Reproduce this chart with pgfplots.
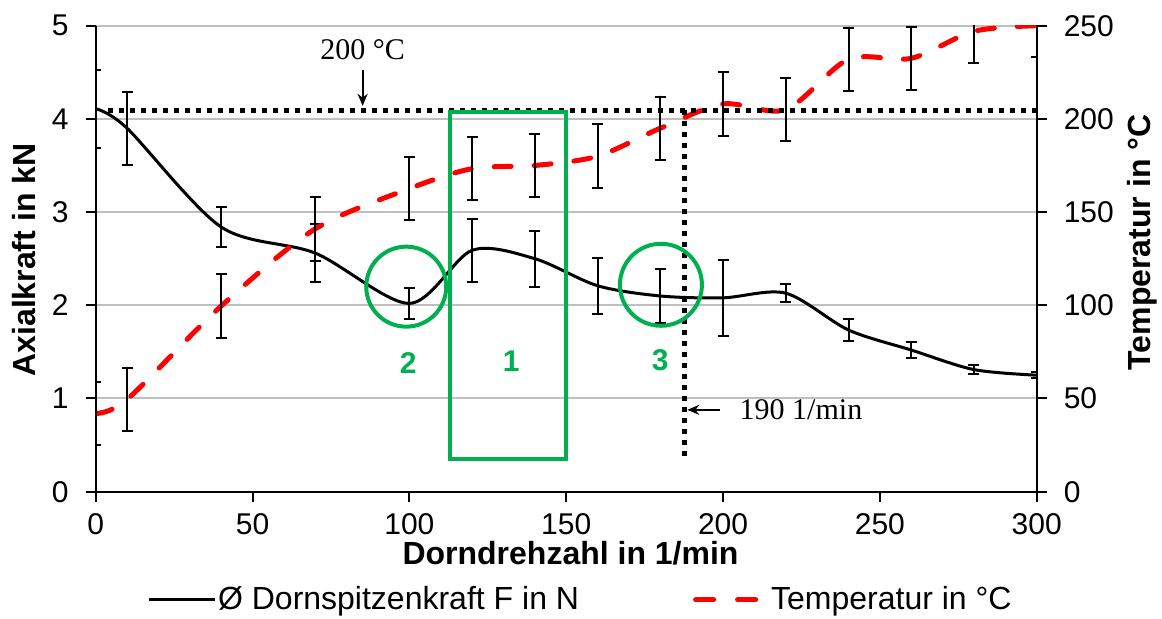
\documentclass[border=0pt]{standalone}
\usepackage{fontspec}
\setmainfont{Liberation Sans}
\newfontfamily\serif{Liberation Serif}
\usepackage{pgfplots}
\usepackage{pgfplotstable}
\pgfplotsset{compat=1.18}
\usetikzlibrary{arrows.meta}
\definecolor{ggreen}{HTML}{00B050}

\pgfplotstableread{
x    F     Fe
0    4.11  0.42
10   3.90  0.39
40   2.84  0.21
70   2.56  0.31
100  2.02  0.17
120  2.59  0.34
140  2.50  0.30
160  2.21  0.30
180  2.10  0.29
200  2.08  0.41
220  2.13  0.10
240  1.735 0.12
260  1.52  0.09
280  1.31  0.045
300  1.25  0.03
}\force

\pgfplotstableread{
x    T     Te
0    42    17
10   49.5  17
40   99.6  17
70   141   17
100  162.6 17
120  173.3 17
140  175   17
160  180   17
180  195   17
200  208   17
220  205   17
240  232   17
260  232.5 17
280  247   17
300  250   17
}\temp

\pgfplotsset{
  common/.style={
    scale only axis,
    width=470.5pt, height=233pt,
    xmin=0, xmax=300,
    tick align=outside,
    major tick length=5pt,
    tick style={black, line width=1pt},
    axis line style={-, black, line width=1pt},
    /pgf/number format/assume math mode=true,
    ticklabel style={font=\fontsize{15}{15}\selectfont},
    label style={font=\fontsize{16}{16}\selectfont\bfseries},
  },
  errs/.style={
    error bars/.cd, y dir=both, y explicit,
    error bar style={black, solid, line width=1pt},
    error mark options={rotate=90, mark size=2.75pt, black, solid, line width=1pt},
  },
}

\begin{document}
\begin{tikzpicture}
\begin{axis}[
  common,
  ymin=0, ymax=5,
  xtick={0,50,...,300},
  ytick={0,1,...,5},
  axis x line*=bottom,
  axis y line*=left,
  xticklabel style={inner ysep=0pt, yshift=-5.5pt},
  yticklabel style={xshift=-5pt},
  ymajorgrids=true,
  major grid style={gray!50, line width=1pt},
  xlabel={Dorndrehzahl in 1/min},
  ylabel={Axialkraft in kN},
  xlabel style={at={(axis description cs:0.5046,-0.133)}, anchor=center, inner ysep=0pt},
  ylabel style={at={(axis description cs:-0.0765,0.497)}, anchor=center},
  legend columns=2,
  legend style={at={(axis description cs:0.0542,-0.232)}, anchor=west,
    draw=none, fill=none, inner sep=0pt,
    nodes={inner xsep=1pt},
    font=\fontsize{16}{16}\selectfont,
    /tikz/every even column/.append style={column sep=56pt}},
  legend cell align=left,
]
\addplot[black, line width=1.5pt, smooth, tension=0.5, mark=none,
  legend image code/.code={\draw[black, line width=1.5pt] (0pt,0pt) -- (33pt,0pt);}, errs]
  table[x=x, y=F, y error=Fe] {\force};
\addlegendentry{Ø Dornspitzenkraft F in N}
\addlegendimage{red, line width=2.5pt, line cap=round,
  legend image code/.code={\draw[red, line width=2.5pt, line cap=round, dash pattern=on 9pt off 12pt] (1.25pt,0pt) -- (32pt,0pt);
    \path[draw=none] (0pt,0pt) -- (38pt,0pt);}}
\addlegendentry{Temperatur in °C}
\end{axis}

\begin{axis}[
  common,
  ymin=0, ymax=250,
  ytick={0,50,...,250},
  axis x line=none,
  axis y line*=right,
  yticklabel style={xshift=5pt},
  ylabel={Temperatur in °C},
  ylabel style={at={(axis description cs:1.112,0.535)}, anchor=center},
]
\addplot[red, line width=2.5pt, line cap=round, dash pattern=on 8.5pt off 11.5pt,
  smooth, tension=0.5, mark=none, errs]
  table[x=x, y=T, y error=Te] {\temp};

% Markierungen
\draw[black, line width=2.5pt, dash pattern=on 2.5pt off 3pt]
  (axis cs:4,204.75) -- (axis cs:300,204.75);
\draw[black, line width=2.5pt, dash pattern=on 2.5pt off 3pt]
  (axis cs:187.7,204.75) -- (axis cs:187.7,16);
\draw[ggreen, line width=2pt] (axis cs:112.8,17.5) rectangle (axis cs:149.8,203.5);
\node[draw=ggreen, line width=2pt, circle, minimum size=40pt, inner sep=0pt] at (axis cs:99,110) {};
\node[draw=ggreen, line width=2pt, circle, minimum size=41pt, inner sep=0pt] at (axis cs:180.2,111) {};
\node[ggreen, font=\fontsize{15}{15}\selectfont\bfseries] at (axis cs:99.6,69) {2};
\node[ggreen, font=\fontsize{15}{15}\selectfont\bfseries] at (axis cs:132.5,69.75) {1};
\node[ggreen, font=\fontsize{15}{15}\selectfont\bfseries] at (axis cs:180,70.5) {3};

\draw[-{Stealth[length=6pt,width=5pt]}, line width=1pt] (axis cs:85.1,226) -- (axis cs:85.1,207);
\node[font=\serif\fontsize{15}{15}\selectfont] at (axis cs:85.1,237) {200 °C};
\draw[-{Stealth[length=6pt,width=5pt]}, line width=1pt] (axis cs:199,43.9) -- (axis cs:188.6,43.9);
\node[anchor=west, inner sep=0pt, font=\serif\fontsize{15}{15}\selectfont] at (axis cs:205.2,43.9) {190 1/min};
\end{axis}

\pgfresetboundingbox
\path (-47.85pt,-63.65pt) rectangle (533.15pt,245.85pt);
\end{tikzpicture}
\end{document}
